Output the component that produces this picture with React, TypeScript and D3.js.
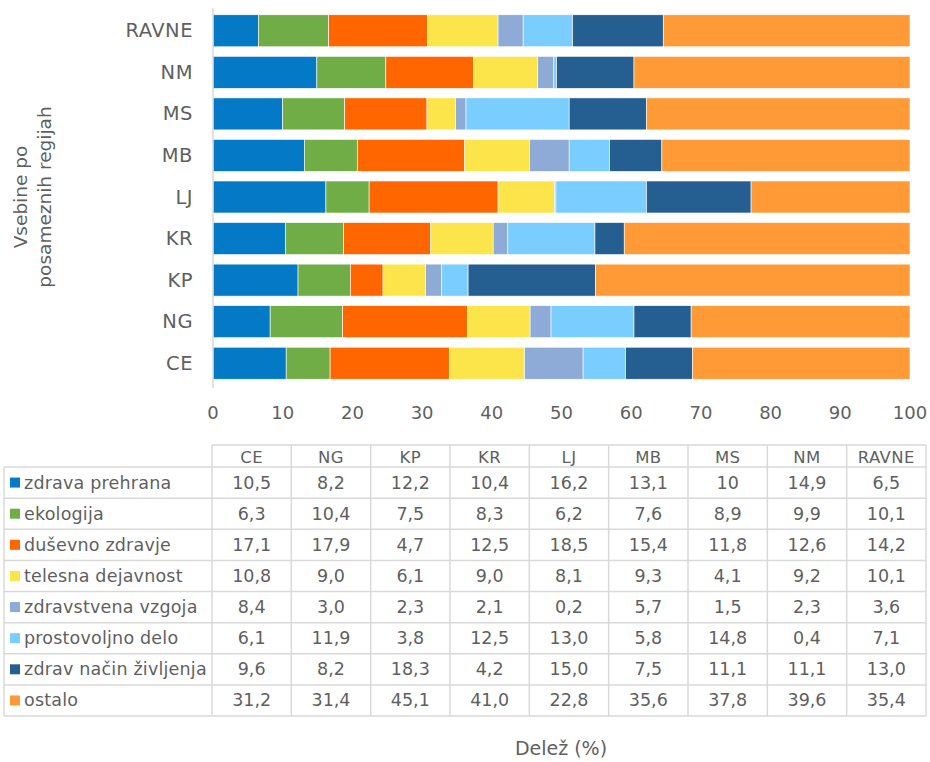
import React, { useEffect, useRef } from "react";
import * as d3 from "d3";

// regions, bottom to top in the chart, left to right in the table
const regions = ["CE", "NG", "KP", "KR", "LJ", "MB", "MS", "NM", "RAVNE"];

const categories = [
  "zdrava prehrana",
  "ekologija",
  "duševno zdravje",
  "telesna dejavnost",
  "zdravstvena vzgoja",
  "prostovoljno delo",
  "zdrav način življenja",
  "ostalo",
];

const colors = [
  "#0479c5",
  "#70ad47",
  "#ff6600",
  "#fbe54b",
  "#8eaad6",
  "#79cdff",
  "#255f91",
  "#ff9a36",
];

// values as printed in the table
const zdravaPrehrana = ["10,5", "8,2", "12,2", "10,4", "16,2", "13,1", "10", "14,9", "6,5"];
const ekologija = ["6,3", "10,4", "7,5", "8,3", "6,2", "7,6", "8,9", "9,9", "10,1"];
const dusevnoZdravje = ["17,1", "17,9", "4,7", "12,5", "18,5", "15,4", "11,8", "12,6", "14,2"];
const telesnaDejavnost = ["10,8", "9,0", "6,1", "9,0", "8,1", "9,3", "4,1", "9,2", "10,1"];
const zdravstvenaVzgoja = ["8,4", "3,0", "2,3", "2,1", "0,2", "5,7", "1,5", "2,3", "3,6"];
const prostovoljnoDelo = ["6,1", "11,9", "3,8", "12,5", "13,0", "5,8", "14,8", "0,4", "7,1"];
const zdravNacin = ["9,6", "8,2", "18,3", "4,2", "15,0", "7,5", "11,1", "11,1", "13,0"];
const ostalo = ["31,2", "31,4", "45,1", "41,0", "22,8", "35,6", "37,8", "39,6", "35,4"];

const tableRows = [
  zdravaPrehrana,
  ekologija,
  dusevnoZdravje,
  telesnaDejavnost,
  zdravstvenaVzgoja,
  prostovoljnoDelo,
  zdravNacin,
  ostalo,
];

const xTicks = [0, 10, 20, 30, 40, 50, 60, 70, 80, 90, 100];

const toNum = (s: string) => +s.replace(",", ".");

const App: React.FC = () => {
  const svgRef = useRef<SVGSVGElement>(null);

  useEffect(() => {
    if (!svgRef.current) return;
    const svg = d3.select(svgRef.current);
    svg.selectAll("*").remove();

    const font = "'DejaVu Sans', sans-serif";
    const textColor = "#5f5f5f";
    const lineColor = "#d9d9d9";

    const rows = regions.map((r, i) => {
      const o: any = { region: r };
      categories.forEach((c, j) => (o[c] = toNum(tableRows[j][i])));
      return o;
    });

    const stack = d3.stack<any>().keys(categories);
    const series = stack(rows);

    const x = d3.scaleLinear().domain([0, 100]).range([213, 910]);
    const y = d3
      .scaleBand<string>()
      .domain(regions.slice().reverse())
      .range([10, 384])
      .paddingInner(0.23)
      .paddingOuter(0.115);

    // bars
    const chart = svg.append("g");
    series.forEach((s, j) => {
      chart
        .append("g")
        .attr("fill", colors[j])
        .selectAll("rect")
        .data(s)
        .join("rect")
        .attr("x", (d) => x(d[0]))
        .attr("width", (d) => Math.max(0, x(d[1]) - x(d[0])))
        .attr("y", (d) => y(d.data.region)!)
        .attr("height", y.bandwidth())
        .attr("stroke", "#ffffff")
        .attr("stroke-width", 0.6);
    });

    // vertical axis line
    svg
      .append("line")
      .attr("x1", x(0))
      .attr("x2", x(0))
      .attr("y1", 8)
      .attr("y2", 388)
      .attr("stroke", lineColor)
      .attr("stroke-width", 1.5);

    // region labels
    svg
      .append("g")
      .selectAll("text")
      .data(regions)
      .join("text")
      .attr("x", 193)
      .attr("y", (d) => y(d)! + y.bandwidth() / 2)
      .attr("text-anchor", "end")
      .attr("dominant-baseline", "central")
      .style("font-family", font)
      .style("font-size", "19.5px")
      .style("letter-spacing", "0.5px")
      .style("fill", textColor)
      .text((d) => d);

    // x tick labels
    svg
      .append("g")
      .selectAll("text")
      .data(xTicks)
      .join("text")
      .attr("x", (d) => x(d))
      .attr("y", 412)
      .attr("text-anchor", "middle")
      .attr("dominant-baseline", "central")
      .style("font-family", font)
      .style("font-size", "18px")
      .style("fill", textColor)
      .text((d) => d);

    // y axis title
    const yTitle = svg
      .append("text")
      .attr("transform", "translate(32, 197) rotate(-90)")
      .attr("text-anchor", "middle")
      .style("font-family", font)
      .style("font-size", "18.5px")
      .style("fill", textColor);
    yTitle.append("tspan").attr("x", 0).attr("dy", "-0.25em").text("Vsebine po");
    yTitle.append("tspan").attr("x", 0).attr("dy", "1.25em").text("posameznih regijah");

    // x axis title
    svg
      .append("text")
      .attr("x", 561)
      .attr("y", 748)
      .attr("text-anchor", "middle")
      .attr("dominant-baseline", "central")
      .style("font-family", font)
      .style("font-size", "19px")
      .style("fill", textColor)
      .text("Delež (%)");

    // data table
    const tLeft = 4;
    const tCol0 = 212;
    const tRight = 926;
    const colW = (tRight - tCol0) / regions.length;
    const headTop = 445;
    const headBottom = 467;
    const rowH = (716 - headBottom) / categories.length;
    const tBottom = headBottom + rowH * categories.length;

    const table = svg.append("g");
    const grid = table
      .append("g")
      .attr("stroke", lineColor)
      .attr("stroke-width", 1.5);

    grid
      .append("line")
      .attr("x1", tCol0)
      .attr("x2", tRight)
      .attr("y1", headTop)
      .attr("y2", headTop);
    d3.range(categories.length + 1).forEach((i) => {
      grid
        .append("line")
        .attr("x1", tLeft)
        .attr("x2", tRight)
        .attr("y1", headBottom + i * rowH)
        .attr("y2", headBottom + i * rowH);
    });
    grid
      .append("line")
      .attr("x1", tLeft)
      .attr("x2", tLeft)
      .attr("y1", headBottom)
      .attr("y2", tBottom);
    d3.range(regions.length + 1).forEach((i) => {
      grid
        .append("line")
        .attr("x1", tCol0 + i * colW)
        .attr("x2", tCol0 + i * colW)
        .attr("y1", headTop)
        .attr("y2", tBottom);
    });

    // header
    table
      .append("g")
      .selectAll("text")
      .data(regions)
      .join("text")
      .attr("x", (d, i) => tCol0 + (i + 0.5) * colW)
      .attr("y", (headTop + headBottom) / 2 + 1)
      .attr("text-anchor", "middle")
      .attr("dominant-baseline", "central")
      .style("font-family", font)
      .style("font-size", "16.5px")
      .style("letter-spacing", "0.4px")
      .style("fill", textColor)
      .text((d) => d);

    // rows
    categories.forEach((c, j) => {
      const cy = headBottom + (j + 0.5) * rowH;
      table
        .append("rect")
        .attr("x", 10)
        .attr("y", cy - 5)
        .attr("width", 10)
        .attr("height", 10)
        .attr("fill", colors[j]);
      table
        .append("text")
        .attr("x", 24)
        .attr("y", cy)
        .attr("dominant-baseline", "central")
        .style("font-family", font)
        .style("font-size", "17.5px")
        .style("letter-spacing", "0.2px")
        .style("fill", textColor)
        .text(c);
      table
        .append("g")
        .selectAll("text")
        .data(tableRows[j])
        .join("text")
        .attr("x", (d, i) => tCol0 + (i + 0.5) * colW)
        .attr("y", cy)
        .attr("text-anchor", "middle")
        .attr("dominant-baseline", "central")
        .style("font-family", font)
        .style("font-size", "17.5px")
        .style("fill", textColor)
        .text((d) => d);
    });
  }, []);

  return (
    <div style={{ position: "absolute", left: 0, top: 0 }}>
      <svg ref={svgRef} width={930} height={762} style={{ display: "block", background: "#ffffff" }} />
    </div>
  );
};

export default App;
